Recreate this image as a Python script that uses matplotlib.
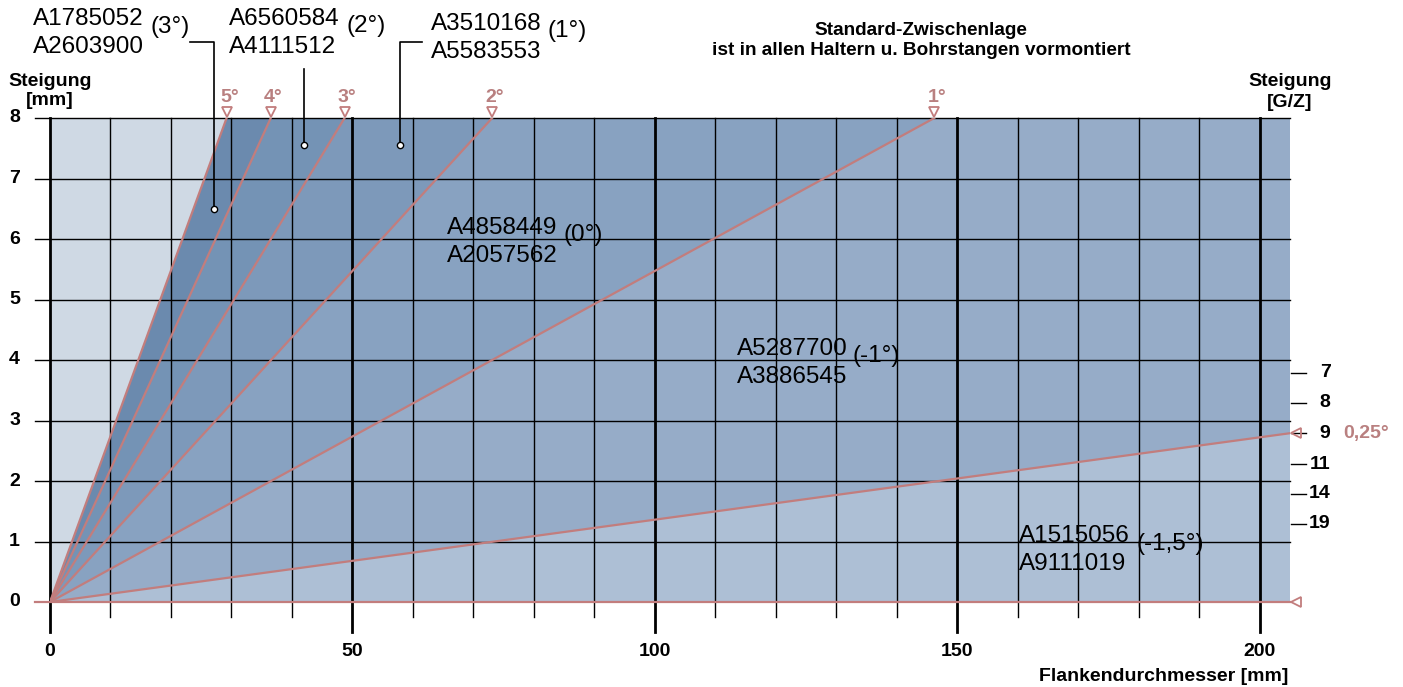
import matplotlib.pyplot as plt

plt.rcParams['font.family'] = ['Liberation Sans', 'DejaVu Sans']

x_max = 205
y_max = 8

# helix angle lines, read where they hit the 8 mm top edge
angle_labels = ['5°', '4°', '3°', '2°', '1°']
angle_top_x = [29.2, 36.5, 48.7, 73.1, 146.2]
# the flat 0,25° line ends on the right edge
flat_label = '0,25°'
flat_end_y = 2.79

# threads per inch scale on the right
gz_labels = ['7', '8', '9', '11', '14', '19']
gz_pitch = [3.79, 3.29, 2.79, 2.28, 1.79, 1.29]

# shim article numbers per field
shim_top = ['A1785052', 'A6560584', 'A3510168', 'A4858449', 'A5287700', 'A1515056']
shim_bottom = ['A2603900', 'A4111512', 'A5583553', 'A2057562', 'A3886545', 'A9111019']
shim_angle = ['(3°)', '(2°)', '(1°)', '(0°)', '(-1°)', '(-1,5°)']

x_ticks = [0, 50, 100, 150, 200]
y_ticks = [0, 1, 2, 3, 4, 5, 6, 7, 8]

region_colors = ['#cfd9e4', '#6b8aae', '#7493b5', '#7d99ba',
                 '#88a2c1', '#96acc8', '#adbfd5']
rose = '#c27d7d'
rose_txt = '#b98080'
bold = dict(fontsize=14, fontweight='bold')

fig = plt.figure(figsize=(14.03, 6.87), dpi=100)
ax = fig.add_axes([50 / 1403, 85 / 687, 1240 / 1403, 484 / 687])
ax.set_xlim(0, x_max)
ax.set_ylim(0, y_max)
ax.set_axis_off()

# coloured fields between the lines
ends = [(0, y_max)] + [(x, y_max) for x in angle_top_x]
perim = ends + [(x_max, y_max), (x_max, flat_end_y), (x_max, 0)]
bounds = list(range(len(ends))) + [len(ends) + 1, len(ends) + 2]
for k, c in enumerate(region_colors):
    pts = [(0, 0)] + perim[bounds[k]:bounds[k + 1] + 1]
    xs, ys = zip(*pts)
    ax.fill(xs, ys, color=c, lw=0, zorder=1)

# grid
for y in range(1, y_max + 1):
    ax.plot([-2.48, x_max], [y, y], color='black', lw=1.0, zorder=2, clip_on=False)
for x in range(0, 201, 10):
    if x % 50 == 0:
        ax.plot([x, x], [-0.5, y_max], color='black', lw=2.0, zorder=2, clip_on=False)
    else:
        ax.plot([x, x], [-0.25, y_max], color='black', lw=1.0, zorder=2, clip_on=False)

# angle lines
for x, lab in zip(angle_top_x, angle_labels):
    ax.plot([0, x], [0, y_max], color=rose, lw=1.6, zorder=3)
    ax.plot(x, 8.10, marker='v', ms=6.5, mfc='none', mec=rose, mew=1.3,
            zorder=4, clip_on=False)
    ax.text(x + 0.45, 8.27, lab, ha='center', va='baseline', color=rose_txt, **bold)
ax.plot([0, x_max], [0, flat_end_y], color=rose, lw=1.6, zorder=3)
ax.plot([-2.48, x_max], [0, 0], color=rose, lw=1.6, zorder=3, clip_on=False)
for y in [flat_end_y, 0]:
    ax.plot(206.0, y, marker='<', ms=6.5, mfc='none', mec=rose, mew=1.3,
            zorder=4, clip_on=False)
ax.text(213.75, flat_end_y, flat_label, ha='left', va='center', color=rose_txt, **bold)

# right scale
for y, lab in zip(gz_pitch, gz_labels):
    ax.plot([205.1, 207.6], [y, y], color='black', lw=1.0, clip_on=False)
    ax.text(211.7, y, lab, ha='right', va='center', **bold)

# ticks
for x in x_ticks:
    ax.text(x, -0.893, str(x), ha='center', va='baseline', **bold)
for y in y_ticks:
    ax.text(-4.96, y, str(y), ha='right', va='center', **bold)

# axis titles
ax.text(0, 8.53, 'Steigung', ha='center', va='baseline', **bold)
ax.text(0, 8.21, '[mm]', ha='center', va='baseline', **bold)
ax.text(x_max, 8.53, 'Steigung', ha='center', va='baseline', **bold)
ax.text(x_max, 8.19, '[G/Z]', ha='center', va='baseline', **bold)
ax.text(204.7, -1.306, 'Flankendurchmesser [mm]', ha='right', va='baseline', **bold)
ax.text(144.0, 9.37, 'Standard-Zwischenlage', ha='center', va='baseline',
        fontsize=13.7, fontweight='bold')
ax.text(144.0, 9.04, 'ist in allen Haltern u. Bohrstangen vormontiert', ha='center',
        va='baseline', fontsize=13.7, fontweight='bold')

# shim labels: (code x, first baseline y, angle x, angle y)
label_pos = [(-2.81, 9.537, 16.65, 9.50),
             (29.64, 9.537, 49.05, 9.516),
             (63.0, 9.455, 82.3, 9.44),
             (65.58, 6.083, 84.86, 6.066),
             (113.5, 4.083, 132.75, 4.066),
             (160.2, 0.992, 179.7, 0.959)]
for (cx, cy, axx, ayy), t, b, a in zip(label_pos, shim_top, shim_bottom, shim_angle):
    ax.text(cx, cy, t, ha='left', va='baseline', fontsize=17.5, zorder=5)
    ax.text(cx, cy - 0.458, b, ha='left', va='baseline', fontsize=17.5, zorder=5)
    ax.text(axx, ayy, a, ha='left', va='center', fontsize=17.5, zorder=5)

# leader lines from the small circles
ax.plot([27.11, 27.11, 23.14], [6.49, 9.256, 9.256], color='black', lw=1.2, zorder=5, clip_on=False)
ax.plot([42.04, 42.04], [7.55, 8.81], color='black', lw=1.2, zorder=5, clip_on=False)
ax.plot([57.86, 57.86, 61.5], [7.55, 9.256, 9.256], color='black', lw=1.2, zorder=5, clip_on=False)
for px, py in [(27.11, 6.49), (42.04, 7.55), (57.86, 7.55)]:
    ax.plot(px, py, marker='o', ms=4.5, mfc='white', mec='black', mew=1.0, zorder=6)

plt.savefig('out.png', dpi=100)
